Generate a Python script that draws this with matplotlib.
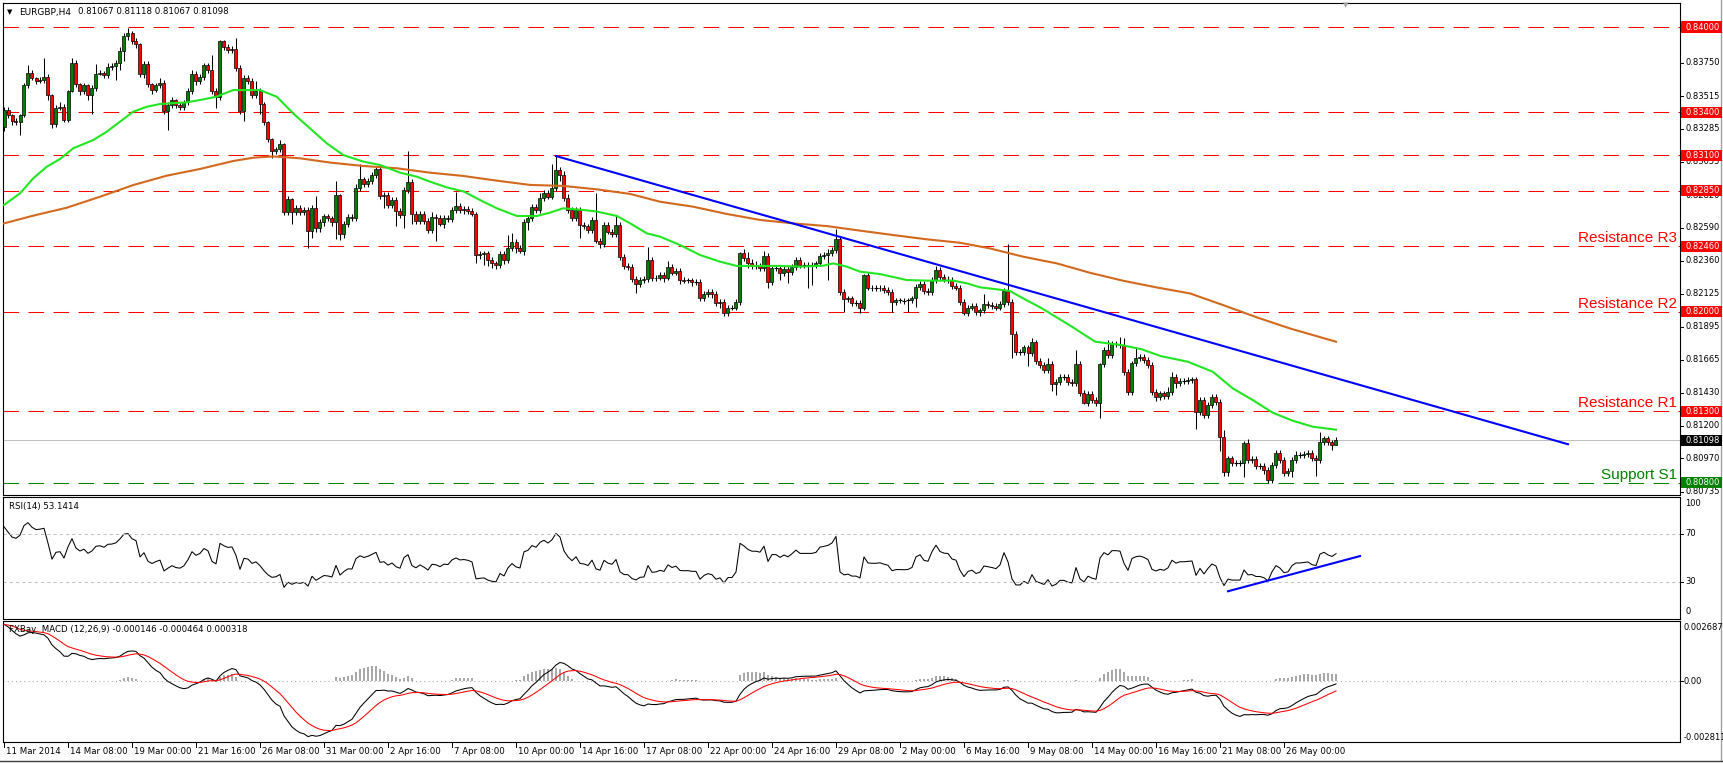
import numpy as np
import matplotlib
matplotlib.use("Agg")
import matplotlib.pyplot as plt
from matplotlib.patches import Rectangle
from matplotlib.lines import Line2D

# ---------------- data (prices in pips, 1 pip = 0.0001) ----------------
first_open = 8330.0
close = [
    8342, 8338, 8334, 8333, 8338, 8359, 8368, 8364, 8362, 8363, 8365, 8352, 8332, 8343, 8344, 8335, 8355, 8375, 8360, 8355,
    8359, 8352, 8357, 8367, 8368, 8366, 8372, 8372.5, 8375, 8383, 8394, 8395.5, 8390, 8388, 8367, 8374, 8360, 8356, 8359, 8361,
    8341, 8345, 8348.5, 8345, 8344, 8347, 8355, 8367, 8362, 8365, 8373, 8370, 8355, 8351, 8390, 8386, 8383.5, 8384.5, 8371, 8341,
    8364, 8362, 8352, 8355, 8346, 8333, 8321, 8313, 8314, 8317.5, 8270, 8279, 8270, 8273, 8270, 8271.5, 8257, 8273, 8259, 8263,
    8267, 8265.6, 8263, 8282, 8254.7, 8261.5, 8266.4, 8266, 8286.7, 8293, 8289.5, 8292, 8296, 8300, 8281, 8282, 8275, 8278.5, 8271, 8268,
    8285.6, 8291, 8269, 8264, 8269, 8264, 8257.5, 8266.8, 8265.7, 8262, 8265.7, 8265, 8271.5, 8274.3, 8271.5, 8272, 8271, 8269, 8240, 8240.6,
    8241, 8236.4, 8234, 8233, 8240.6, 8236.4, 8244.6, 8249.3, 8244.6, 8243, 8263.3, 8265.7, 8273.4, 8271.5, 8279.7, 8283.7, 8280.9, 8286.7, 8299.6, 8296,
    8280, 8271.5, 8265.7, 8271.5, 8261, 8260, 8257.5, 8264.5, 8250, 8247.6, 8261, 8256.3, 8254.4, 8261, 8238.3, 8232.2, 8231.7, 8222.8, 8219.5, 8222.4,
    8222.8, 8236.4, 8223.5, 8224, 8225.9, 8224, 8231.7, 8227.5, 8229, 8222.3, 8221.9, 8222, 8221, 8221, 8209.4, 8212.5, 8214, 8212.5, 8206, 8207,
    8199, 8203, 8203, 8207, 8241, 8238, 8234, 8232, 8232, 8231, 8239, 8221, 8230.5, 8230.5, 8227, 8230, 8228, 8231.7, 8236.4, 8233,
    8233, 8233, 8233, 8234, 8239.2, 8240, 8241, 8243.4, 8250.9, 8214, 8208.7, 8209.4, 8206, 8206, 8203, 8225.8, 8217, 8216.5, 8216.5, 8217,
    8215.3, 8214, 8207, 8208, 8208, 8207.8, 8208, 8209.4, 8217.6, 8219.5, 8214.8, 8214, 8222.3, 8229.3, 8224.2, 8222.8, 8222.5, 8218, 8217, 8207,
    8199, 8203, 8204, 8200, 8201, 8205.5, 8204.8, 8204, 8203, 8205.4, 8214.8, 8207, 8184.4, 8172, 8172, 8175, 8170.8, 8178.5, 8165.6, 8162.6,
    8159.1, 8163.3, 8149.3, 8150.9, 8154.4, 8154.4, 8150.9, 8149.7, 8163.3, 8143.2, 8136, 8142.2, 8138, 8135.7, 8163.3, 8173.1, 8169.6, 8177.3, 8177.3, 8176.6,
    8157.9, 8143.9, 8163.8, 8167.3, 8168.4, 8166.1, 8162.6, 8143.9, 8140.4, 8142.7, 8140.8, 8143.9, 8154.4, 8149.7, 8151.6, 8151.6, 8152, 8152.5, 8129.8, 8138,
    8127.5, 8134.5, 8140.4, 8136.9, 8112.3, 8087.7, 8097, 8094, 8094, 8094, 8107.6, 8095.9, 8096.4, 8091.7, 8091.7, 8088.9, 8081.8, 8092.4, 8100.6, 8095.9,
    8087, 8088, 8095.9, 8099.4, 8099.4, 8100, 8100.6, 8097.1, 8096, 8108.8, 8111.1, 8108.3, 8106.7, 8109.8,
]
wick_up = [
    2, 2, 1, 2, 1, 2, 5, 2, 1, 2, 13, 2, 1, 2, 3, 2, 1, 3, 2, 1,
    2, 1, 2, 7, 2, 1, 3, 2, 2, 3, 2, 3.5, 2, 2, 1, 2, 2, 1, 2, 3,
    2, 2, 2, 1, 2, 2, 2, 3, 2, 2, 2, 2, 10, 2, 1, 1, 2, 2, 8, 2,
    2, 2, 2, 7, 2, 1, 1, 1, 2, 3, 1, 2, 1, 2, 2, 2, 2, 2, 8, 2,
    2, 2, 2, 10, 1, 2, 2, 2, 3, 11, 2, 2, 2, 2, 3, 2, 2, 2, 2, 2,
    2, 22, 2, 2, 2, 2, 2, 3, 2, 2, 2, 2, 2, 10, 2, 2, 2, 2, 1, 2,
    2, 2, 2, 2, 2, 2, 9, 6, 2, 2, 2, 2, 2, 2, 4, 2, 2, 17, 10, 2,
    3, 3, 2, 2, 2, 2, 2, 2, 19, 2, 2, 2, 2, 6, 2, 2, 2, 2, 2, 2,
    2, 9, 2, 2, 2, 2, 4, 2, 2, 2, 2, 2, 2, 2, 2, 2, 2, 2, 2, 2,
    2, 2, 2, 2, 1, 3, 4, 3, 4, 2, 4, 2, 2, 2, 2, 2, 2, 2, 2, 2,
    2, 2, 2, 2, 2, 2, 3, 2, 7, 2, 2, 2, 2, 2, 2, 1, 2, 2, 2, 2,
    2, 2, 2, 2, 2, 2, 2, 2, 2, 2, 2, 2, 2, 3, 2, 2, 2, 2, 2, 2,
    2, 2, 2, 2, 2, 7, 2, 2, 2, 2, 2, 33, 2, 2, 2, 2, 2, 3, 2, 2,
    2, 4, 2, 2, 2, 2, 2, 2, 10, 2, 2, 2, 2, 2, 1, 2, 7, 2, 2, 5,
    5, 2, 2, 8, 2, 2, 2, 2, 2, 2, 2, 3, 3, 2, 2, 2, 2, 2, 2, 2,
    2, 2, 2, 2, 2, 5, 2, 2, 2, 2, 2, 3, 2, 2, 2, 2, 2, 2, 2, 2,
    2, 2, 2, 3, 2, 2, 2, 2, 2, 7, 2, 2, 2, 2,
]
wick_dn = [
    3, 2, 3, 2, 9, 1, 2, 1, 2, 1, 2, 3, 3, 2, 1, 2, 2, 1, 2, 3,
    2, 3, 13, 2, 1, 2, 2, 2, 10, 5, 7, 3, 2, 3, 2, 3, 2, 3, 2, 2,
    2, 13, 2, 2, 2, 2, 2, 2, 3, 2, 2, 2, 2, 8, 2, 2, 2, 2, 2, 2,
    7, 2, 2, 2, 7, 2, 2, 5, 2, 2, 2, 2, 8, 2, 2, 2, 12, 5, 3, 3,
    3, 2, 3, 12, 4, 3, 2, 2, 2, 2, 2, 2, 2, 2, 2, 8, 2, 2, 11, 2,
    9, 2, 7, 2, 2, 2, 2, 2, 16, 2, 3, 2, 2, 2, 2, 3, 2, 2, 6, 3,
    8, 4, 3, 3, 2, 3, 2, 2, 3, 2, 3, 6, 2, 2, 2, 2, 2, 2, 2, 4,
    2, 2, 2, 2, 9, 2, 2, 2, 2, 3, 2, 2, 2, 2, 2, 2, 2, 2, 6, 2,
    2, 2, 2, 2, 2, 3, 2, 2, 2, 3, 2, 2, 3, 2, 2, 2, 2, 3, 2, 3,
    2, 2, 2, 2, 2, 2, 3, 2, 2, 2, 2, 4, 2, 2, 5, 2, 8, 2, 2, 2,
    2, 16, 14, 2, 2, 2, 18, 2, 2, 2, 9, 2, 2, 2, 4, 2, 2, 2, 2, 2,
    2, 2, 7, 2, 2, 2, 8, 2, 6, 2, 2, 2, 2, 2, 2, 2, 2, 2, 2, 2,
    1, 2, 2, 2, 3, 2, 2, 2, 2, 2, 2, 2, 17, 2, 2, 2, 9, 2, 2, 2,
    2, 2, 5, 8, 2, 2, 2, 2, 2, 2, 1, 2, 2, 2, 10, 2, 2, 2, 2, 2,
    2, 2, 2, 2, 2, 2, 2, 2, 3, 2, 2, 2, 2, 3, 2, 2, 2, 2, 12, 2,
    2, 2, 2, 2, 10, 3, 3, 2, 2, 2, 10, 2, 2, 2, 2, 3, 2, 2, 2, 2,
    2, 2, 4, 2, 2, 2, 2, 2, 11, 2, 2, 2, 4, 0,
]

# moving averages (bar index, pips)
ma_fast_x = [0, 4, 7.3, 10.7, 14, 17.3, 22.3, 25.7, 29, 32.3, 35.7, 39, 45.7, 49, 53, 57.3, 64, 68.2, 72.3, 76.5,
             80.7, 84.8, 89.8, 94, 99, 103.2, 106.5, 110.7, 115, 119, 123.2, 128.2, 133.2, 136.5, 139.8, 144.8, 148.2,
             153.2, 156.5, 160.7, 164, 169, 174, 179, 183.2, 189, 194, 199, 204.8, 207.3, 210.7, 214, 219, 225.7,
             230.7, 237.3, 240.7, 244, 248.2, 251.5, 254.8, 259.5, 267, 272.8, 279.5, 284.5, 289.2, 296, 302.2,
             307.2, 312.2, 317.2, 322.2, 327.2, 333]
ma_fast_y = [8275.0, 8283.2, 8293.7, 8301.9, 8307.3, 8314.8, 8320.6, 8326.5, 8333.5, 8340.5, 8344.0, 8345.9, 8347.1,
             8348.7, 8351.0, 8355.7, 8355.7, 8351.0, 8339.3, 8328.8, 8318.3, 8310.1, 8305.5, 8303.1, 8297.7, 8294.9,
             8291.4, 8287.4, 8284.4, 8278.5, 8272.7, 8267.3, 8267.3, 8269.6, 8272.7, 8271.5, 8270.4, 8267.3, 8262.2,
             8255.1, 8252.8, 8246.9, 8239.9, 8235.2, 8232.2, 8232.2, 8232.2, 8231.7, 8232.4, 8234.0, 8231.7, 8228.2,
             8226.5, 8222.3, 8221.9, 8221.9, 8220.0, 8217.2, 8215.8, 8214.6, 8209.4, 8202.4, 8189.5, 8179.0, 8176.6,
             8173.6, 8168.9, 8164.9, 8157.9, 8146.2, 8138.0, 8129.1, 8123.5, 8119.3, 8117.2]
ma_slow_x = [0, 7.3, 15.7, 24, 32.3, 40.7, 49, 57.3, 62.3, 67.3, 74, 81.5, 89.8, 98.2, 106.5, 114.8, 123.2, 131.5,
             139.8, 148.2, 156.5, 164, 172.3, 180.7, 189, 197.3, 205.7, 214, 222.3, 230.7, 239, 246.5, 254.8, 263.2,
             271.5, 279.8, 288.2, 296.5, 304.8, 313.2, 321.5, 333]
ma_slow_y = [8262.1, 8267.5, 8273.1, 8280.8, 8289.0, 8295.6, 8300.3, 8305.9, 8308.2, 8309.1, 8307.8, 8304.8, 8302.4,
             8300.8, 8297.7, 8295.4, 8292.1, 8289.1, 8288.4, 8286.0, 8282.8, 8277.3, 8273.8, 8268.7, 8264.5, 8262.1,
             8260.2, 8257.0, 8253.9, 8250.9, 8248.5, 8244.5, 8238.7, 8234.0, 8227.4, 8221.8, 8217.1, 8212.9, 8204.7,
             8196.1, 8188.3, 8179.0]

trend_x = [138, 391]
trend_y = [8309.4, 8107.0]
rsi_trend_x = [306, 339]
rsi_trend_y = [22.3, 51.6]

red_levels = [0.84000, 0.83400, 0.83100, 0.82850, 0.82460, 0.82000, 0.81300]
support_level = 0.80800
bid_level = 0.81098
price_ticks = [0.83980, 0.83750, 0.83515, 0.83285, 0.83055, 0.82820, 0.82590, 0.82360,
               0.82125, 0.81895, 0.81665, 0.81430, 0.81200, 0.80970, 0.80735]
zone_labels = [("Resistance R3", 0.82460, "#ff0000"), ("Resistance R2", 0.82000, "#ff0000"),
               ("Resistance R1", 0.81300, "#ff0000"), ("Support S1", 0.80800, "#008000")]
date_labels = ["11 Mar 2014", "14 Mar 08:00", "19 Mar 00:00", "21 Mar 16:00", "26 Mar 08:00", "31 Mar 00:00",
               "2 Apr 16:00", "7 Apr 08:00", "10 Apr 00:00", "14 Apr 16:00", "17 Apr 08:00", "22 Apr 00:00",
               "24 Apr 16:00", "29 Apr 08:00", "2 May 00:00", "6 May 16:00", "9 May 08:00", "14 May 00:00",
               "16 May 16:00", "21 May 08:00", "26 May 00:00"]
bars_per_label = 16

# indicator settings
rsi_period = 14
rsi_seed = (3.2, 1.3)          # average gain / loss carried in from earlier bars
macd_fast, macd_slow, macd_sig = 12, 26, 9
macd_seed = (8327.0, 8300.0, 26.0)

# ---------------- derived ----------------
cl = np.array(close, dtype=float)
op = np.concatenate([[first_open], cl[:-1]])
hi = np.maximum(op, cl) + np.array(wick_up)
lo = np.minimum(op, cl) - np.array(wick_dn)
n = len(cl)
xb = np.arange(n)

g, l = rsi_seed
rsi = []
for d in cl - op:
    g = (g * (rsi_period - 1) + max(d, 0)) / rsi_period
    l = (l * (rsi_period - 1) + max(-d, 0)) / rsi_period
    rsi.append(100 - 100 / (1 + g / l))


def ema(vals, period, seed):
    a = 2.0 / (period + 1)
    out, e = [], seed
    for v in vals:
        e = e + a * (v - e)
        out.append(e)
    return np.array(out)


macd = ema(cl, macd_fast, macd_seed[0]) - ema(cl, macd_slow, macd_seed[1])
signal = ema(macd, macd_sig, macd_seed[2])
macd, signal = macd / 1e4, signal / 1e4
hist = np.clip(macd - signal, 0, None)

# ---------------- figure ----------------
W, H = 1723, 763
fig = plt.figure(figsize=(W / 100, H / 100), dpi=100)
fig.patch.set_facecolor("white")


def box(x0, y0, x1, y1):
    return [x0 / W, 1 - y1 / H, (x1 - x0) / W, (y1 - y0) / H]


def ypx(p):
    return 27 + (0.84 - p) * 14240


def ftext(x, y, s, **kw):
    kw.setdefault("fontsize", 6)
    kw.setdefault("va", "center")
    kw.setdefault("family", "DejaVu Sans")
    return fig.text(x / W, 1 - y / H, s, **kw)


def fline(x0, y0, x1, y1, **kw):
    fig.add_artist(Line2D([x0 / W, x1 / W], [1 - y0 / H, 1 - y1 / H], **kw))


ax = fig.add_axes(box(3, 3, 1680, 495))
ax_rsi = fig.add_axes(box(3, 497, 1680, 619))
ax_macd = fig.add_axes(box(3, 621, 1680, 742))
for a in (ax, ax_rsi, ax_macd):
    a.set_xlim(-0.25, 419)
    a.set_xticks([])
    a.set_yticks([])
    for s in a.spines.values():
        s.set_linewidth(0.8)
        s.set_color("black")

ax.set_ylim(0.807135, 0.841685)
ax_rsi.set_ylim(-0.83, 100.83)
ax_macd.set_ylim(-0.002812, 0.002766)

# horizontal levels
for lv in red_levels:
    ax.axhline(lv, color="#ff0000", lw=0.75, dashes=(15, 9), zorder=1)
ax.axhline(support_level, color="#008000", lw=0.75, dashes=(15, 9), zorder=1)
ax.axhline(bid_level, color="#c0c0c0", lw=0.75, zorder=1)

# candles
o, c, h, lw_ = op / 1e4, cl / 1e4, hi / 1e4, lo / 1e4
ax.vlines(xb, lw_, h, color="black", lw=0.75, zorder=2)
up = c > o + 0.00003
dn = c < o - 0.00003
flat = ~(up | dn)
ax.bar(xb[up], (c - o)[up], bottom=o[up], width=0.75, color="#008000",
       edgecolor="black", linewidth=0.5, zorder=3)
ax.bar(xb[dn], (o - c)[dn], bottom=c[dn], width=0.75, color="#ff0000",
       edgecolor="black", linewidth=0.5, zorder=3)
ax.hlines(c[flat], xb[flat] - 0.4, xb[flat] + 0.4, color="black", lw=0.8, zorder=3)

# moving averages and trend line
ax.plot(ma_slow_x, np.array(ma_slow_y) / 1e4, color="#d2691e", lw=1.5, zorder=4)
ax.plot(ma_fast_x, np.array(ma_fast_y) / 1e4, color="#22e622", lw=1.5, zorder=4)
ax.plot(trend_x, np.array(trend_y) / 1e4, color="#0000ff", lw=1.5, zorder=5)

for name, lv, col in zone_labels:
    ftext(1677, ypx(lv) - 4, name, ha="right", va="baseline", fontsize=11,
          family="Liberation Sans", color=col)

# chart-shift marker
ftext(1343, 5, "\u25bc", fontsize=5, color="#a0a0a0")

# right price scale
for t in price_ticks:
    y = ypx(t)
    fline(1680, y, 1683, y, color="black", lw=0.7)
    ftext(1685, y, f"{t:.5f}", zorder=3)
for lv, fc in [(v, "#ff0000") for v in red_levels] + [(bid_level, "black"), (support_level, "#008000")]:
    y = ypx(lv)
    fig.add_artist(Rectangle((1681 / W, 1 - (y + 5.5) / H), 41 / W, 11 / H, transform=fig.transFigure,
                             facecolor=fc, edgecolor="none", zorder=5))
    ftext(1685, y, f"{lv:.5f}", color="white", zorder=6)

# header
ftext(7, 12, "\u25bc", fontsize=5)
ftext(19, 12, "EURGBP,H4", fontsize=6.5)
ftext(78, 12, "0.81067 0.81118 0.81067 0.81098", fontsize=6.2)

# RSI panel
ax_rsi.plot(xb, rsi, color="black", lw=0.75)
for lv in (70, 30):
    ax_rsi.axhline(lv, color="#c0c0c0", lw=0.75, dashes=(3, 3))
ax_rsi.plot(rsi_trend_x, rsi_trend_y, color="#0000ff", lw=1.5)
ftext(9, 506, "RSI(14) 53.1414", fontsize=6.2)
for txt, y in [("100", 504), ("70", 534), ("30", 582), ("0", 612)]:
    ftext(1685, y, txt, fontsize=6)
for y in (534, 582):
    fline(1680, y, 1683, y, color="black", lw=0.7)

# MACD panel
ax_macd.axhline(0, color="#a8a8a8", lw=0.75, dashes=(1, 3), zorder=1)
ax_macd.bar(xb, hist, width=0.3, color="#a8a8a8", zorder=1)
ax_macd.plot(xb, macd, color="black", lw=0.75, zorder=2)
ax_macd.plot(xb, signal, color="#ff0000", lw=0.75, zorder=3)
ftext(9, 630, "FXBay  MACD (12,26,9) -0.000146 -0.000464 0.000318", fontsize=6.2)
for txt, y in [("0.002687", 628), ("0.00", 681), ("-0.002811", 738)]:
    ftext(1684, y, txt, fontsize=6)
fline(1680, 681, 1683, 681, color="black", lw=0.7)

# time axis
for k, lab in enumerate(date_labels):
    x = 4 + 4 * bars_per_label * k
    fline(x, 742, x, 747, color="black", lw=0.7)
    ftext(x + 2, 752, lab, fontsize=6.2)

# window frame
fline(1721, 0, 1721, 760, color="#a0a0a0", lw=1)
fline(0, 761, 1723, 761, color="#404040", lw=1)

fig.savefig("out.png", dpi=100, facecolor="white")
